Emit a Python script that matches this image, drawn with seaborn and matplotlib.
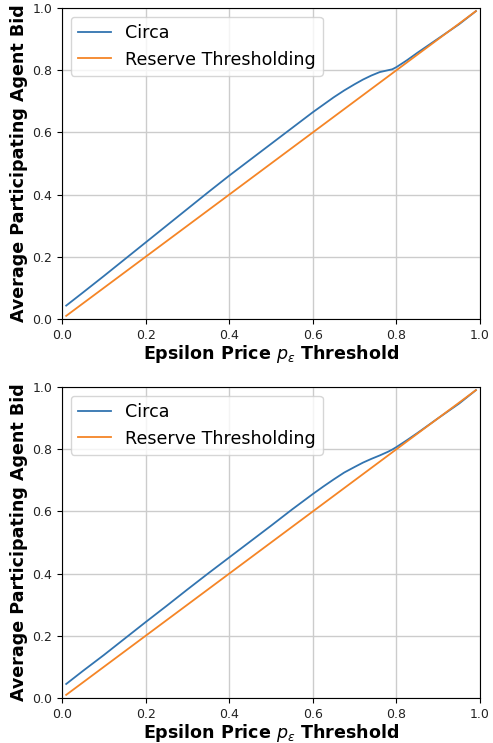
import matplotlib
matplotlib.use("Agg")
import matplotlib.pyplot as plt
import seaborn as sns
import pandas as pd

x_vals = [0.01, 0.05, 0.1, 0.15, 0.2, 0.25, 0.3, 0.35, 0.4, 0.45, 0.5, 0.55, 0.6,
          0.625, 0.65, 0.675, 0.7, 0.72, 0.74, 0.76, 0.78, 0.79, 0.8, 0.825, 0.85,
          0.9, 0.95, 0.99]
circa_top = [0.043, 0.085, 0.138, 0.192, 0.246, 0.300, 0.354, 0.408, 0.461, 0.512,
             0.563, 0.614, 0.665, 0.689, 0.713, 0.735, 0.755, 0.770, 0.783, 0.794,
             0.800, 0.803, 0.810, 0.832, 0.856, 0.902, 0.948, 0.990]
circa_bottom = [0.045, 0.087, 0.138, 0.191, 0.244, 0.296, 0.349, 0.401, 0.452, 0.503,
                0.554, 0.606, 0.656, 0.680, 0.703, 0.725, 0.743, 0.757, 0.769, 0.780,
                0.792, 0.799, 0.807, 0.829, 0.852, 0.900, 0.947, 0.990]
reserve = list(x_vals)

series_names = ["Circa", "Reserve Thresholding"]
x_label = r"Epsilon Price $p_\epsilon$ Threshold"
y_label = "Average Participating Agent Bid"
ticks = [0.0, 0.2, 0.4, 0.6, 0.8, 1.0]

fig = plt.figure(figsize=(4.93, 7.43), dpi=100)
ax1 = fig.add_axes([0.1258, 0.5707, 0.848, 0.4185])
ax2 = fig.add_axes([0.1258, 0.0606, 0.848, 0.4185])

for ax, circa in [(ax1, circa_top), (ax2, circa_bottom)]:
    df = pd.DataFrame({
        "x": x_vals + x_vals,
        "y": circa + reserve,
        "series": [series_names[0]] * len(x_vals) + [series_names[1]] * len(x_vals),
    })
    sns.lineplot(data=df, x="x", y="y", hue="series", palette=["#3274b0", "#f58526"],
                 ax=ax, linewidth=1.3)
    ax.set_xlim(0, 1)
    ax.set_ylim(0, 1)
    ax.set_xticks(ticks)
    ax.set_yticks(ticks)
    ax.tick_params(labelsize=9, labelcolor="#222222")
    ax.grid(True, color="#cccccc", linewidth=1)
    ax.set_axisbelow(True)
    ax.set_xlabel(x_label, fontsize=12.6, fontweight="bold", labelpad=1)
    ax.set_ylabel(y_label, fontsize=12.6, fontweight="bold", labelpad=3)
    ax.legend(loc="upper left", fontsize=12.6, title=None, handlelength=1.9)

fig.savefig("out.png", dpi=100)
